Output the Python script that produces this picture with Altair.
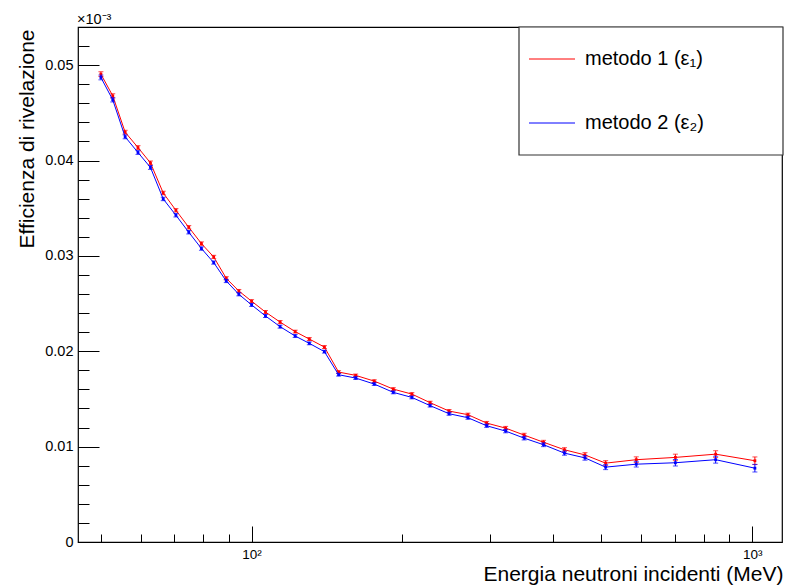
import altair as alt
import pandas as pd

# ---------------- data ----------------
energy = [50, 52.8, 55.9, 59.3, 62.8, 66.6, 70.6, 74.9, 79.4, 84.0, 89.0, 94.3,
          100, 106.6, 114.0, 122.2, 130.4, 139.8, 149.2, 161.4, 175.8, 191.9,
          209.0, 227.3, 248, 270.5, 294.8, 321.7, 350.3, 383, 421.7, 463.4,
          509.6, 586.7, 702.4, 845.3, 1012.5]

eff_m1 = [0.04906, 0.04678, 0.04297, 0.04136, 0.03975, 0.03660, 0.03478, 0.03300,
          0.03129, 0.02989, 0.02765, 0.02632, 0.02525, 0.02411, 0.02306, 0.02206,
          0.02128, 0.02044, 0.01782, 0.01747, 0.01687, 0.01603, 0.01551, 0.01461,
          0.01373, 0.01335, 0.01247, 0.01194, 0.01121, 0.01046, 0.00967, 0.00913,
          0.00827, 0.00863, 0.00887, 0.00921, 0.00852]

eff_m2 = [0.04871, 0.04636, 0.04248, 0.04084, 0.03927, 0.03597, 0.03426, 0.03248,
          0.03077, 0.02930, 0.02737, 0.02597, 0.02486, 0.02370, 0.02258, 0.02160,
          0.02083, 0.01996, 0.01754, 0.01719, 0.01656, 0.01569, 0.01516, 0.01430,
          0.01345, 0.01303, 0.01219, 0.01163, 0.01089, 0.01020, 0.00932, 0.00882,
          0.00785, 0.00816, 0.00831, 0.00863, 0.00774]

err_m1 = [0.00025, 0.00022, 0.00020, 0.00020, 0.00020, 0.00018, 0.00018, 0.00018,
          0.00018, 0.00017, 0.00017, 0.00016, 0.00016, 0.00016, 0.00016, 0.00015,
          0.00015, 0.00015, 0.00014, 0.00014, 0.00014, 0.00015, 0.00015, 0.00015,
          0.00016, 0.00016, 0.00017, 0.00018, 0.00019, 0.00020, 0.00022, 0.00024,
          0.00026, 0.00030, 0.00034, 0.00036, 0.00040]

err_m2 = [0.00025, 0.00022, 0.00020, 0.00020, 0.00020, 0.00018, 0.00018, 0.00018,
          0.00018, 0.00017, 0.00017, 0.00016, 0.00016, 0.00016, 0.00016, 0.00015,
          0.00015, 0.00015, 0.00014, 0.00014, 0.00014, 0.00015, 0.00015, 0.00015,
          0.00016, 0.00016, 0.00017, 0.00018, 0.00019, 0.00020, 0.00022, 0.00024,
          0.00026, 0.00030, 0.00034, 0.00036, 0.00040]

series_labels = ["metodo 1 (ε₁)", "metodo 2 (ε₂)"]
series_colors = ["#ff0000", "#0000ff"]

x_major_ticks = [100, 1000]
x_minor_ticks = [50, 60, 70, 80, 90, 200, 300, 400, 500, 600, 700, 800, 900]
y_major_ticks = [0, 0.01, 0.02, 0.03, 0.04, 0.05]
y_minor_ticks = [0.002, 0.004, 0.006, 0.008, 0.012, 0.014, 0.016, 0.018,
                 0.022, 0.024, 0.026, 0.028, 0.032, 0.034, 0.036, 0.038,
                 0.042, 0.044, 0.046, 0.048, 0.052]

x_title = "Energia neutroni incidenti (MeV)"
y_title = "Efficienza di rivelazione"
exp_label = "×10⁻³"

# ---------------- tables ----------------
rows = []
for m, effs, errs in [("1", eff_m1, err_m1), ("2", eff_m2, err_m2)]:
    for e, v, s in zip(energy, effs, errs):
        rows.append({"E": e, "eff": v, "lo": v - s, "hi": v + s, "m": m})
df = pd.DataFrame(rows)
caps = pd.concat([
    df.assign(yc=df["lo"]),
    df.assign(yc=df["hi"]),
])

FONT = "Liberation Sans"
W, H = 704, 515

xscale = alt.Scale(type="log", domain=[45, 1147], nice=False)
yscale = alt.Scale(domain=[0, 0.054], nice=False, zero=False)
cscale = alt.Scale(domain=["1", "2"], range=series_colors)

x_major_axis = alt.Axis(orient="bottom", values=x_major_ticks, tickSize=16, offset=-16,
                        domain=False,
                        labelExpr="datum.value == 100 ? '10²' : '10³'",
                        labelFontSize=13.5, labelPadding=5, labelColor="black",
                        tickColor="black", grid=False, title=x_title,
                        titleFontSize=21, titleFontWeight="normal", titleColor="black",
                        titleAlign="right", titleX=705, titleY=54,
                        titleBaseline="alphabetic")
x_minor_axis = alt.Axis(orient="bottom", values=x_minor_ticks, tickSize=8, offset=-8,
                        domain=False, labels=False, grid=False, title=None,
                        tickColor="black")
y_major_axis = alt.Axis(orient="left", values=y_major_ticks, tickSize=21, offset=-21,
                        domain=False, format=".2~f", labelFontSize=14.5, labelPadding=5,
                        labelColor="black", tickColor="black", grid=False,
                        title=y_title, titleFontSize=21, titleFontWeight="normal",
                        titleColor="black", titleAngle=-90, titleAlign="right",
                        titleX=-66, titleY=2, titleBaseline="alphabetic")
y_minor_axis = alt.Axis(orient="left", values=y_minor_ticks, tickSize=11, offset=-11,
                        domain=False, labels=False, grid=False, title=None,
                        tickColor="black")

base = alt.Chart(df)

line1 = base.transform_filter("datum.m == '1'").mark_line(color=series_colors[0], strokeWidth=1).encode(
    x=alt.X("E:Q", scale=xscale, axis=x_major_axis),
    y=alt.Y("eff:Q", scale=yscale, axis=y_major_axis),
)
line2 = base.transform_filter("datum.m == '2'").mark_line(color=series_colors[1], strokeWidth=1).encode(
    x=alt.X("E:Q", scale=xscale, axis=x_minor_axis),
    y=alt.Y("eff:Q", scale=yscale, axis=y_minor_axis),
)
errs = base.mark_rule(strokeWidth=1).encode(
    x=alt.X("E:Q", scale=xscale, axis=None),
    y=alt.Y("lo:Q", scale=yscale, axis=None),
    y2="hi:Q",
    color=alt.Color("m:N", scale=cscale, legend=None),
)
capmarks = alt.Chart(caps).mark_tick(orient="horizontal", size=5, thickness=1).encode(
    x=alt.X("E:Q", scale=xscale, axis=None),
    y=alt.Y("yc:Q", scale=yscale, axis=None),
    color=alt.Color("m:N", scale=cscale, legend=None),
)
pts = base.mark_square(size=8, opacity=1).encode(
    x=alt.X("E:Q", scale=xscale, axis=None),
    y=alt.Y("eff:Q", scale=yscale, axis=None),
    color=alt.Color("m:N", scale=cscale, legend=None),
)

one = pd.DataFrame({"a": [0]})
exp_text = alt.Chart(one).mark_text(text=exp_label, font=FONT, fontSize=14.5,
                                    align="left", baseline="alphabetic", color="black").encode(
    x=alt.value(-1), y=alt.value(-3))

leg_box = alt.Chart(one).mark_rect(fill="white", stroke="#333333", strokeWidth=1.2).encode(
    x=alt.value(441), x2=alt.value(705), y=alt.value(0), y2=alt.value(128))

leg_df = pd.DataFrame({"lab": series_labels, "m": ["1", "2"], "yy": [32, 96]})
leg_lines = alt.Chart(leg_df).mark_rule(strokeWidth=1).encode(
    x=alt.value(451), x2=alt.value(497), y=alt.Y("yy:Q", scale=None, axis=None),
    color=alt.Color("m:N", scale=cscale, legend=None))
leg_text = alt.Chart(leg_df).mark_text(font=FONT, fontSize=20, align="left",
                                       baseline="middle", color="black").encode(
    x=alt.value(507), y=alt.Y("yy:Q", scale=None, axis=None), text="lab:N")

chart = alt.layer(
    line1, errs.transform_filter("datum.m == '1'"), capmarks.transform_filter("datum.m == '1'"),
    pts.transform_filter("datum.m == '1'"),
    line2, errs.transform_filter("datum.m == '2'"), capmarks.transform_filter("datum.m == '2'"),
    pts.transform_filter("datum.m == '2'"),
    exp_text, leg_box, leg_lines, leg_text,
).resolve_axis(x="independent", y="independent").properties(
    width=W, height=H,
    autosize=alt.AutoSizeParams(type="none"),
    padding={"left": 78, "top": 27, "right": 3, "bottom": 44},
    background="white",
).configure(font=FONT).configure_view(stroke="black", strokeWidth=1.2)

chart.save("out.html", embed_options={"renderer": "svg", "actions": False})
